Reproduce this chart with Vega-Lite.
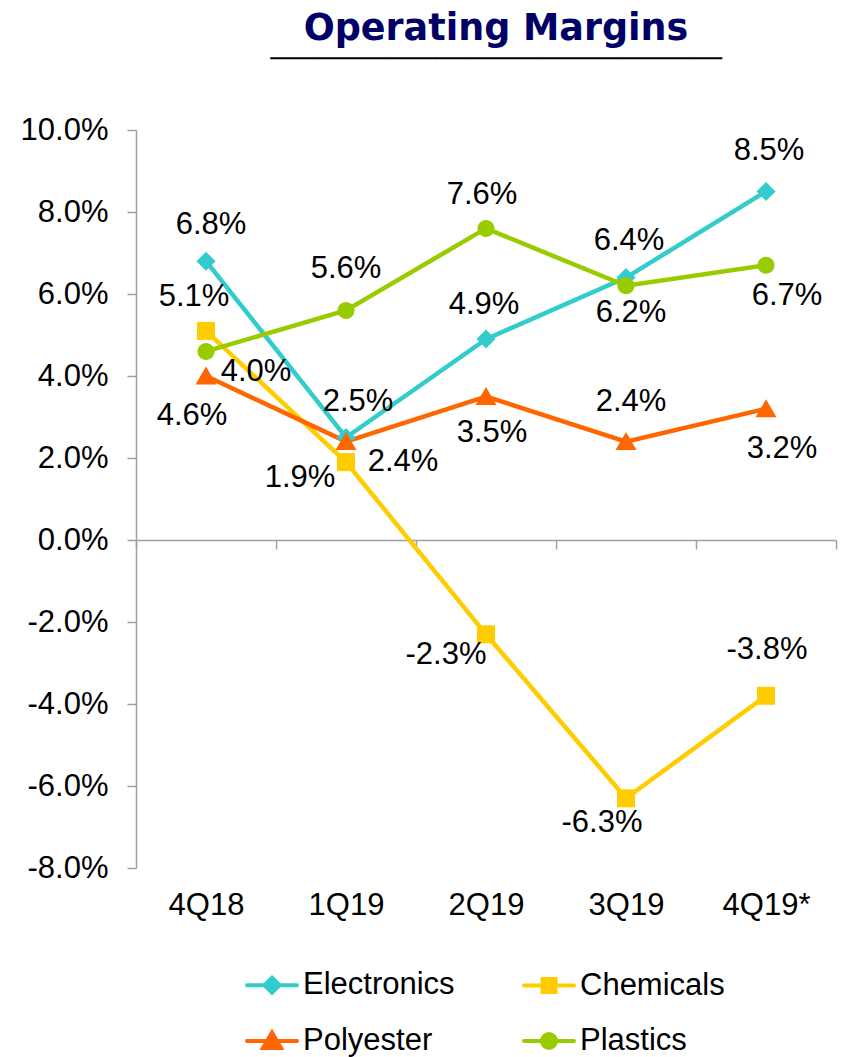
{
  "$schema": "https://vega.github.io/schema/vega-lite/v6.json",
  "width": 700,
  "height": 738,
  "autosize": "none",
  "padding": {"left": 136, "top": 130, "right": 11, "bottom": 189},
  "title": {
    "text": "Operating Margins",
    "subtitle": "──────────────────────────────",
    "font": "DejaVu Sans",
    "fontSize": 36.5,
    "fontWeight": "bold",
    "color": "#000066",
    "subtitleFont": "DejaVu Sans",
    "subtitleFontSize": 25,
    "subtitleColor": "#000000",
    "subtitlePadding": 0,
    "anchor": "middle",
    "dx": 10,
    "offset": 42
  },
  "config": {
    "view": {"stroke": null},
    "locale": {"number": {"decimal": ".", "thousands": ",", "grouping": [3], "currency": ["$", ""], "minus": "-"}},
    "text": {"font": "Liberation Sans", "fontSize": 31, "color": "#000000"}
  },
  "data": {
    "values": [
      {"q": "4Q18", "s": "Electronics", "v": 0.068},
      {"q": "1Q19", "s": "Electronics", "v": 0.025},
      {"q": "2Q19", "s": "Electronics", "v": 0.049},
      {"q": "3Q19", "s": "Electronics", "v": 0.064},
      {"q": "4Q19*", "s": "Electronics", "v": 0.085},
      {"q": "4Q18", "s": "Chemicals", "v": 0.051},
      {"q": "1Q19", "s": "Chemicals", "v": 0.019},
      {"q": "2Q19", "s": "Chemicals", "v": -0.023},
      {"q": "3Q19", "s": "Chemicals", "v": -0.063},
      {"q": "4Q19*", "s": "Chemicals", "v": -0.038},
      {"q": "4Q18", "s": "Polyester", "v": 0.040},
      {"q": "1Q19", "s": "Polyester", "v": 0.024},
      {"q": "2Q19", "s": "Polyester", "v": 0.035},
      {"q": "3Q19", "s": "Polyester", "v": 0.024},
      {"q": "4Q19*", "s": "Polyester", "v": 0.032},
      {"q": "4Q18", "s": "Plastics", "v": 0.046},
      {"q": "1Q19", "s": "Plastics", "v": 0.056},
      {"q": "2Q19", "s": "Plastics", "v": 0.076},
      {"q": "3Q19", "s": "Plastics", "v": 0.062},
      {"q": "4Q19*", "s": "Plastics", "v": 0.067}
    ]
  },
  "encoding": {
    "x": {
      "field": "q", "type": "nominal",
      "sort": ["4Q18", "1Q19", "2Q19", "3Q19", "4Q19*"],
      "scale": {"type": "band", "paddingInner": 0, "paddingOuter": 0},
      "axis": {
        "title": null, "orient": "bottom", "offset": -328, "tickBand": "extent",
        "tickSize": 9, "labelPadding": 341, "labelFontSize": 31, "labelFont": "Liberation Sans",
        "labelColor": "#000000", "labelAngle": 0, "labelBaseline": "top",
        "domainColor": "#a0a0a0", "tickColor": "#a0a0a0", "domainWidth": 1.5, "tickWidth": 1.5
      }
    },
    "y": {
      "field": "v", "type": "quantitative",
      "scale": {"domain": [-0.08, 0.1], "nice": false, "zero": false},
      "axis": {
        "title": null, "values": [-0.08, -0.06, -0.04, -0.02, 0, 0.02, 0.04, 0.06, 0.08, 0.1],
        "format": ".1%", "grid": false, "tickSize": 9, "labelPadding": 19,
        "labelFontSize": 31, "labelFont": "Liberation Sans", "labelColor": "#000000",
        "domainColor": "#a0a0a0", "tickColor": "#a0a0a0", "domainWidth": 1.5, "tickWidth": 1.5
      }
    },
    "color": {
      "field": "s", "type": "nominal",
      "scale": {"domain": ["Electronics", "Chemicals", "Polyester", "Plastics"], "range": ["#33CCCC", "#FFCC00", "#FF6600", "#99CC00"]},
      "legend": {
        "title": null, "orient": "none", "legendX": 109, "legendY": 828, "direction": "horizontal",
        "columns": 2, "columnPadding": 61, "rowPadding": 13,
        "symbolSize": 2500, "symbolStrokeWidth": 4,
        "labelFontSize": 31, "labelFont": "Liberation Sans", "labelColor": "#000000", "labelOffset": 4, "labelLimit": 400,
        "encode": {
          "symbols": {
            "update": {
              "shape": {"signal": "datum.value==='Electronics'?'M-1,0H1M0,-0.3L0.3,0L0,0.3L-0.3,0Z':datum.value==='Chemicals'?'M-1,0H1M-0.26,-0.26H0.26V0.26H-0.26Z':datum.value==='Polyester'?'M-1,0H1M0,-0.34L0.36,0.28H-0.36Z':'M-1,0H1M-0.28,0A0.28,0.28,0,1,0,0.28,0A0.28,0.28,0,1,0,-0.28,0Z'"},
              "fill": {"scale": "color", "field": "value"},
              "stroke": {"scale": "color", "field": "value"},
              "strokeCap": {"value": "round"},
              "opacity": {"value": 1}
            }
          }
        }
      }
    }
  },
  "layer": [
    {"mark": {"type": "line", "strokeWidth": 4.5}},
    {"transform": [{"filter": "datum.s==='Electronics'"}], "mark": {"type": "point", "filled": true, "opacity": 1, "size": 400, "shape": "M0,-0.95L0.95,0L0,0.95L-0.95,0Z"}},
    {"transform": [{"filter": "datum.s==='Chemicals'"}], "mark": {"type": "point", "filled": true, "opacity": 1, "size": 400, "shape": "M-0.9,-0.9H0.9V0.9H-0.9Z"}},
    {"transform": [{"filter": "datum.s==='Polyester'"}], "mark": {"type": "point", "filled": true, "opacity": 1, "size": 400, "shape": "M0,-0.95L1.05,0.85H-1.05Z"}},
    {"transform": [{"filter": "datum.s==='Plastics'"}], "mark": {"type": "point", "filled": true, "opacity": 1, "size": 400, "shape": "M-0.85,0A0.85,0.85,0,1,0,0.85,0A0.85,0.85,0,1,0,-0.85,0Z"}},
    {
      "encoding": {"text": {"field": "v", "type": "quantitative", "format": ".1%"}, "color": {"value": "#000000"}},
      "layer": [
        {"transform": [{"filter": "datum.s==='Electronics'&&datum.q==='4Q18'"}], "mark": {"type": "text", "dx": 5, "dy": -36}},
        {"transform": [{"filter": "datum.s==='Electronics'&&datum.q==='1Q19'"}], "mark": {"type": "text", "dx": 12, "dy": -36}},
        {"transform": [{"filter": "datum.s==='Electronics'&&datum.q==='2Q19'"}], "mark": {"type": "text", "dx": -2, "dy": -34}},
        {"transform": [{"filter": "datum.s==='Electronics'&&datum.q==='3Q19'"}], "mark": {"type": "text", "dx": 3, "dy": -37}},
        {"transform": [{"filter": "datum.s==='Electronics'&&datum.q==='4Q19*'"}], "mark": {"type": "text", "dx": 3, "dy": -41}},
        {"transform": [{"filter": "datum.s==='Chemicals'&&datum.q==='4Q18'"}], "mark": {"type": "text", "dx": -12, "dy": -34}},
        {"transform": [{"filter": "datum.s==='Chemicals'&&datum.q==='1Q19'"}], "mark": {"type": "text", "dx": -46, "dy": 16}},
        {"transform": [{"filter": "datum.s==='Chemicals'&&datum.q==='2Q19'"}], "mark": {"type": "text", "dx": -40, "dy": 21}},
        {"transform": [{"filter": "datum.s==='Chemicals'&&datum.q==='3Q19'"}], "mark": {"type": "text", "dx": -24, "dy": 25}},
        {"transform": [{"filter": "datum.s==='Chemicals'&&datum.q==='4Q19*'"}], "mark": {"type": "text", "dx": 1, "dy": -46}},
        {"transform": [{"filter": "datum.s==='Polyester'&&datum.q==='4Q18'"}], "mark": {"type": "text", "dx": 50, "dy": -4}},
        {"transform": [{"filter": "datum.s==='Polyester'&&datum.q==='1Q19'"}], "mark": {"type": "text", "dx": 57, "dy": 20}},
        {"transform": [{"filter": "datum.s==='Polyester'&&datum.q==='2Q19'"}], "mark": {"type": "text", "dx": 6, "dy": 36}},
        {"transform": [{"filter": "datum.s==='Polyester'&&datum.q==='3Q19'"}], "mark": {"type": "text", "dx": 5, "dy": -40}},
        {"transform": [{"filter": "datum.s==='Polyester'&&datum.q==='4Q19*'"}], "mark": {"type": "text", "dx": 16, "dy": 40}},
        {"transform": [{"filter": "datum.s==='Plastics'&&datum.q==='4Q18'"}], "mark": {"type": "text", "dx": -14, "dy": 65}},
        {"transform": [{"filter": "datum.s==='Plastics'&&datum.q==='1Q19'"}], "mark": {"type": "text", "dx": 0, "dy": -41}},
        {"transform": [{"filter": "datum.s==='Plastics'&&datum.q==='2Q19'"}], "mark": {"type": "text", "dx": -4, "dy": -33}},
        {"transform": [{"filter": "datum.s==='Plastics'&&datum.q==='3Q19'"}], "mark": {"type": "text", "dx": 5, "dy": 27}},
        {"transform": [{"filter": "datum.s==='Plastics'&&datum.q==='4Q19*'"}], "mark": {"type": "text", "dx": 21, "dy": 31}}
      ]
    }
  ]
}
